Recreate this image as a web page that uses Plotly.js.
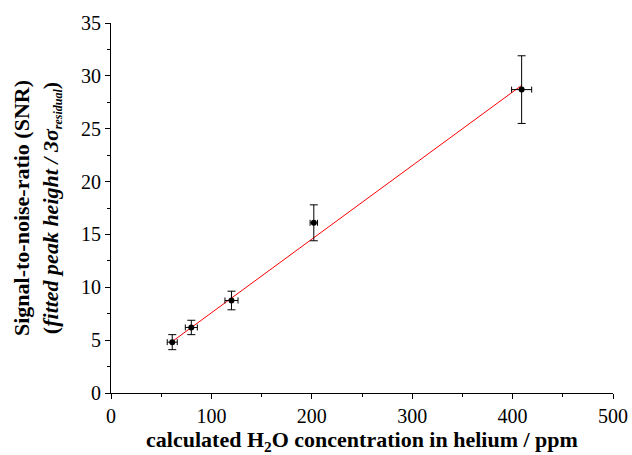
<!DOCTYPE html>
<html>
<head>
<meta charset="utf-8">
<script src="https://cdn.plot.ly/plotly-3.0.1.min.js"></script>
<style>html,body{margin:0;padding:0;background:#fff;}#chart{width:632px;height:455px;}</style>
</head>
<body>
<div id="chart"></div>
<script>
// Data
const concentration = [61, 80, 120, 202, 409];        // ppm
const concErr = [5, 6, 6.5, 3.7, 10];
const snr = [4.81, 6.2, 8.75, 16.1, 28.7];
const snrErr = [0.71, 0.68, 0.88, 1.7, 3.2];
const fitX = [61, 409];
const fitY = [4.87, 29.1];
const xTicks = [0, 100, 200, 300, 400, 500];
const yTicks = [0, 5, 10, 15, 20, 25, 30, 35];

const font = 'Liberation Serif, Times New Roman, serif';

const traces = [
  {
    x: fitX, y: fitY, type: 'scatter', mode: 'lines',
    line: {color: '#ff0000', width: 1}, hoverinfo: 'skip'
  },
  {
    x: concentration, y: snr, type: 'scatter', mode: 'markers',
    marker: {color: '#000', size: 6},
    error_y: {type: 'data', array: snrErr, visible: true, color: '#000', thickness: 1, width: 4},
    error_x: {type: 'data', array: concErr, visible: true, color: '#000', thickness: 1, width: 3}
  }
];

const layout = {
  width: 632, height: 455,
  margin: {l: 111, r: 19, t: 23, b: 62},
  paper_bgcolor: '#fff', plot_bgcolor: '#fff',
  showlegend: false,
  font: {family: font, color: '#000', size: 20},
  xaxis: {
    range: [0, 500], tickvals: xTicks, ticktext: xTicks.map(String),
    showgrid: false, zeroline: false, showline: true, linecolor: '#000', linewidth: 1,
    ticks: 'outside', ticklen: 5, tickcolor: '#000', tickwidth: 1,
    minor: {dtick: 50, ticks: 'outside', ticklen: 3, tickcolor: '#000'},
    tickfont: {family: font, size: 20, color: '#000'},
    title: {text: '<b>calculated H<sub>2</sub>O concentration in helium / ppm</b>', font: {family: font, size: 22, color: '#000'}, standoff: 3}
  },
  yaxis: {
    range: [0, 35], tickvals: yTicks, ticktext: yTicks.map(String),
    showgrid: false, zeroline: false, showline: true, linecolor: '#000', linewidth: 1,
    ticks: 'outside', ticklen: 5, tickcolor: '#000', tickwidth: 1,
    minor: {dtick: 2.5, ticks: 'outside', ticklen: 3, tickcolor: '#000'},
    tickfont: {family: font, size: 20, color: '#000'},
    title: {text: '<b>Signal-to-noise-ratio (SNR)<br>(<i>fitted peak height / 3σ<sub><span style="font-size:12px">residual</span></sub></i>)</b>', font: {family: font, size: 22, color: '#000'}, standoff: 16}
  }
};

Plotly.newPlot('chart', traces, layout, {staticPlot: true, displayModeBar: false});
</script>
</body>
</html>
